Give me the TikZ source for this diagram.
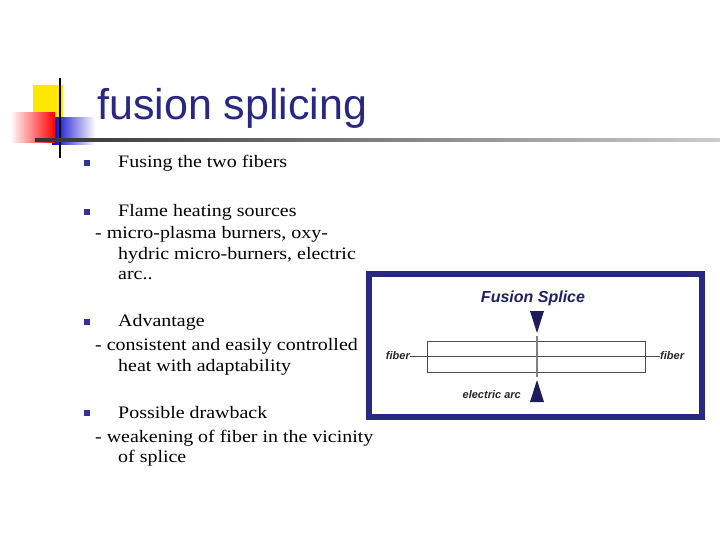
\documentclass[tikz,border=0pt]{standalone}
\usepackage{fontspec}
\setmainfont[FakeStretch=1.14]{Liberation Serif}
\newfontfamily\tsans{Liberation Sans}
\usetikzlibrary{fadings}
\definecolor{navy}{RGB}{40,40,130}
\definecolor{bul}{RGB}{50,50,150}
\begin{document}
\begin{tikzpicture}[x=1pt,y=-1pt,
  txt/.style={anchor=base west,font=\fontsize{17.5}{20}\selectfont,inner sep=0},
  bullet/.style={fill=bul,minimum size=6pt,inner sep=0},
  lbl/.style={font=\tsans\bfseries\itshape\fontsize{11}{12}\selectfont,text=black!85,inner sep=0},
  tri/.style={fill=navy!70!black}]
\useasboundingbox (0,0) rectangle (720,540);
% decoration
\fill[yellow!90!orange] (33,85) rectangle (63,118);
\fill[left color=blue!80!black,right color=white] (52,118) rectangle (95,145);
\fill[left color=white,right color=red] (10,113) rectangle (55,143);
\draw[line width=2pt] (60,78) -- (60,158);
\shade[left color=black!80,right color=black!20] (35,139) rectangle (720,141.5);
\node[anchor=base west,inner sep=0,text=navy,font=\tsans\fontsize{43}{46}\selectfont] (title) at (97,120) {fusion splicing};
% bullets
\node[bullet] (b1) at (87,163) {};
\node[txt] (t1) at (118,168) {Fusing the two fibers};
\node[bullet] (b2) at (87,212) {};
\node[txt] (t2) at (118,216) {Flame heating sources};
\node[txt] (t2a) at (95,238) {- micro-plasma burners, oxy-};
\node[txt] (t2b) at (118,259) {hydric micro-burners, electric};
\node[txt] (t2c) at (118,279) {arc..};
\node[bullet] (b3) at (87,322) {};
\node[txt] (t3) at (118,326) {Advantage};
\node[txt] (t3a) at (95,350) {- consistent and easily controlled};
\node[txt] (t3b) at (118,371) {heat with adaptability};
\node[bullet] (b4) at (87,413) {};
\node[txt] (t4) at (118,418) {Possible drawback};
\node[txt] (t4a) at (95,442) {- weakening of fiber in the vicinity};
\node[txt] (t4b) at (118,462) {of splice};
% figure
\draw[navy,line width=6pt] (369,274) rectangle (702,417);
\node[font=\tsans\bfseries\itshape\fontsize{16}{18}\selectfont,text=navy!80!black] (fs) at (533,298) {Fusion Splice};
\draw[black!70,line width=1pt] (427,341) rectangle (645,372);
\node[lbl,anchor=east] (fl) at (410,356) {fiber};
\node[lbl,anchor=west] (fr) at (660,356) {fiber};
\draw[black!70] (fl.east) -- (fr.west);
\draw[black!50,line width=2.5pt] (537,336) -- (537,377);
\fill[tri] (530,311) -- (544,311) -- (537,333) -- cycle;
\fill[tri] (530,402) -- (544,402) -- (537,380) -- cycle;
\node[lbl,anchor=east] (ea) at (521,395) {electric arc};
\end{tikzpicture}
\end{document}
